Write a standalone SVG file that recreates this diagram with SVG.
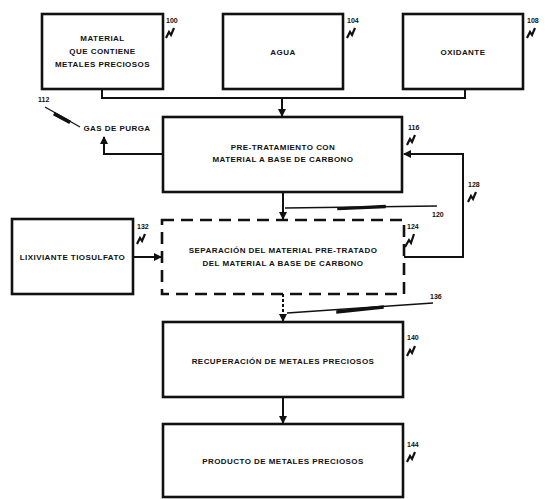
<svg xmlns="http://www.w3.org/2000/svg" width="549" height="499" viewBox="0 0 549 499">
<style>
.box{fill:#fff;stroke:#111;stroke-width:2.6}
.dbox{fill:#fff;stroke:#111;stroke-width:2.6;stroke-dasharray:12 7}
.t{font-family:"Liberation Sans",Arial,sans-serif;font-weight:bold;font-size:8px;letter-spacing:0.45px;fill:#111;text-anchor:middle}
.n{font-family:"Liberation Sans",Arial,sans-serif;font-weight:bold;font-size:7px;fill:#111}
.c{fill:none;stroke:#111;stroke-width:2}
.sq{fill:none;stroke:#111;stroke-width:2.2;stroke-linejoin:miter}
.ld{fill:none;stroke:#111;stroke-width:1.3}
</style>
<defs>
<marker id="ah" markerWidth="8" markerHeight="8" refX="7" refY="4" orient="auto" markerUnits="userSpaceOnUse">
<path d="M0,0 L8,4 L0,8 Z" fill="#111"/>
</marker>
</defs>
<rect width="549" height="499" fill="#fff"/>

<g id="connectors">
<path class="c" d="M102,89 V98 H465 V89"/>
<path class="c" d="M282,98 V116" marker-end="url(#ah)"/>
<path class="c" d="M163,154 H104 V137" marker-end="url(#ah)"/>
<path class="c" d="M404,257 H463 V154 H404" marker-end="url(#ah)"/>
<path class="c" d="M283,192 V219" marker-end="url(#ah)"/>
<path class="c" d="M133,257 H161" marker-end="url(#ah)"/>
<path class="c" d="M283,294 V321" stroke-dasharray="3 2" marker-end="url(#ah)"/>
<path class="c" d="M283,397 V423" marker-end="url(#ah)"/>
</g>

<g id="leaders">
<path class="ld" d="M285,208 L437,206"/>
<path d="M338,208 L385,205.5 L385,207.5 L338,209.5 Z" fill="#111" stroke="#111" stroke-width="1.5"/>
<path class="ld" d="M287,313 L433,303"/>
<path d="M337,311 L383,306 L383,308 L337,313 Z" fill="#111" stroke="#111" stroke-width="1.5"/>
<path class="ld" d="M45,107 L80,127"/>
<path d="M55,113 L70,121 L69,123 L54,115 Z" fill="#111" stroke="#111" stroke-width="1.5"/>
<path class="sq" d="M166,38 L169,32 L171,35 L174,28"/>
<path class="sq" d="M347,38 L350,32 L352,35 L355,28"/>
<path class="sq" d="M527,38 L530,32 L532,35 L535,28"/>
<path class="sq" d="M407,145 L410,139 L412,142 L415,135"/>
<path class="sq" d="M468,202 L471,196 L473,199 L476,192"/>
<path class="sq" d="M137,244 L140,238 L142,241 L145,234"/>
<path class="sq" d="M405,247 L409,240 L411,243 L414,234"/>
<path class="sq" d="M407,356 L410,350 L412,353 L415,346"/>
<path class="sq" d="M407,462 L410,456 L412,459 L415,452"/>
</g>

<g id="n100">
<rect class="box" x="42" y="14" width="121" height="75"/>
<text class="t" x="102.5" y="41">MATERIAL</text>
<text class="t" x="102.5" y="54">QUE CONTIENE</text>
<text class="t" x="102.5" y="67">METALES PRECIOSOS</text>
<text class="n" x="166" y="23">100</text>
</g>
<g id="n104">
<rect class="box" x="223" y="14" width="120" height="75"/>
<text class="t" x="283" y="55">AGUA</text>
<text class="n" x="347" y="23">104</text>
</g>
<g id="n108">
<rect class="box" x="403" y="14" width="120" height="75"/>
<text class="t" x="463" y="55">OXIDANTE</text>
<text class="n" x="527" y="23">108</text>
</g>
<g id="n112">
<text class="n" x="38" y="102">112</text>
<text class="t" x="117" y="131">GAS DE PURGA</text>
</g>
<g id="n116">
<rect class="box" x="163" y="117" width="239" height="75"/>
<text class="t" x="283" y="150">PRE-TRATAMIENTO CON</text>
<text class="t" x="283" y="162">MATERIAL A BASE DE CARBONO</text>
<text class="n" x="408" y="130">116</text>
</g>
<g id="n128">
<text class="n" x="468" y="187">128</text>
</g>
<g id="n120">
<text class="n" x="432" y="217">120</text>
</g>
<g id="n132">
<rect class="box" x="12" y="219" width="121" height="75"/>
<text class="t" x="72.5" y="260">LIXIVIANTE TIOSULFATO</text>
<text class="n" x="137" y="229">132</text>
</g>
<g id="n124">
<rect class="dbox" x="162" y="220" width="242" height="74"/>
<text class="t" x="283" y="253">SEPARACIÓN DEL MATERIAL PRE-TRATADO</text>
<text class="t" x="283" y="266">DEL MATERIAL A BASE DE CARBONO</text>
<text class="n" x="407" y="229">124</text>
</g>
<g id="n136">
<text class="n" x="430" y="299">136</text>
</g>
<g id="n140">
<rect class="box" x="163" y="322" width="240" height="75"/>
<text class="t" x="283" y="364">RECUPERACIÓN DE METALES PRECIOSOS</text>
<text class="n" x="407" y="340">140</text>
</g>
<g id="n144">
<rect class="box" x="163" y="424" width="240" height="73"/>
<text class="t" x="283" y="464">PRODUCTO DE METALES PRECIOSOS</text>
<text class="n" x="407" y="447">144</text>
</g>
</svg>
